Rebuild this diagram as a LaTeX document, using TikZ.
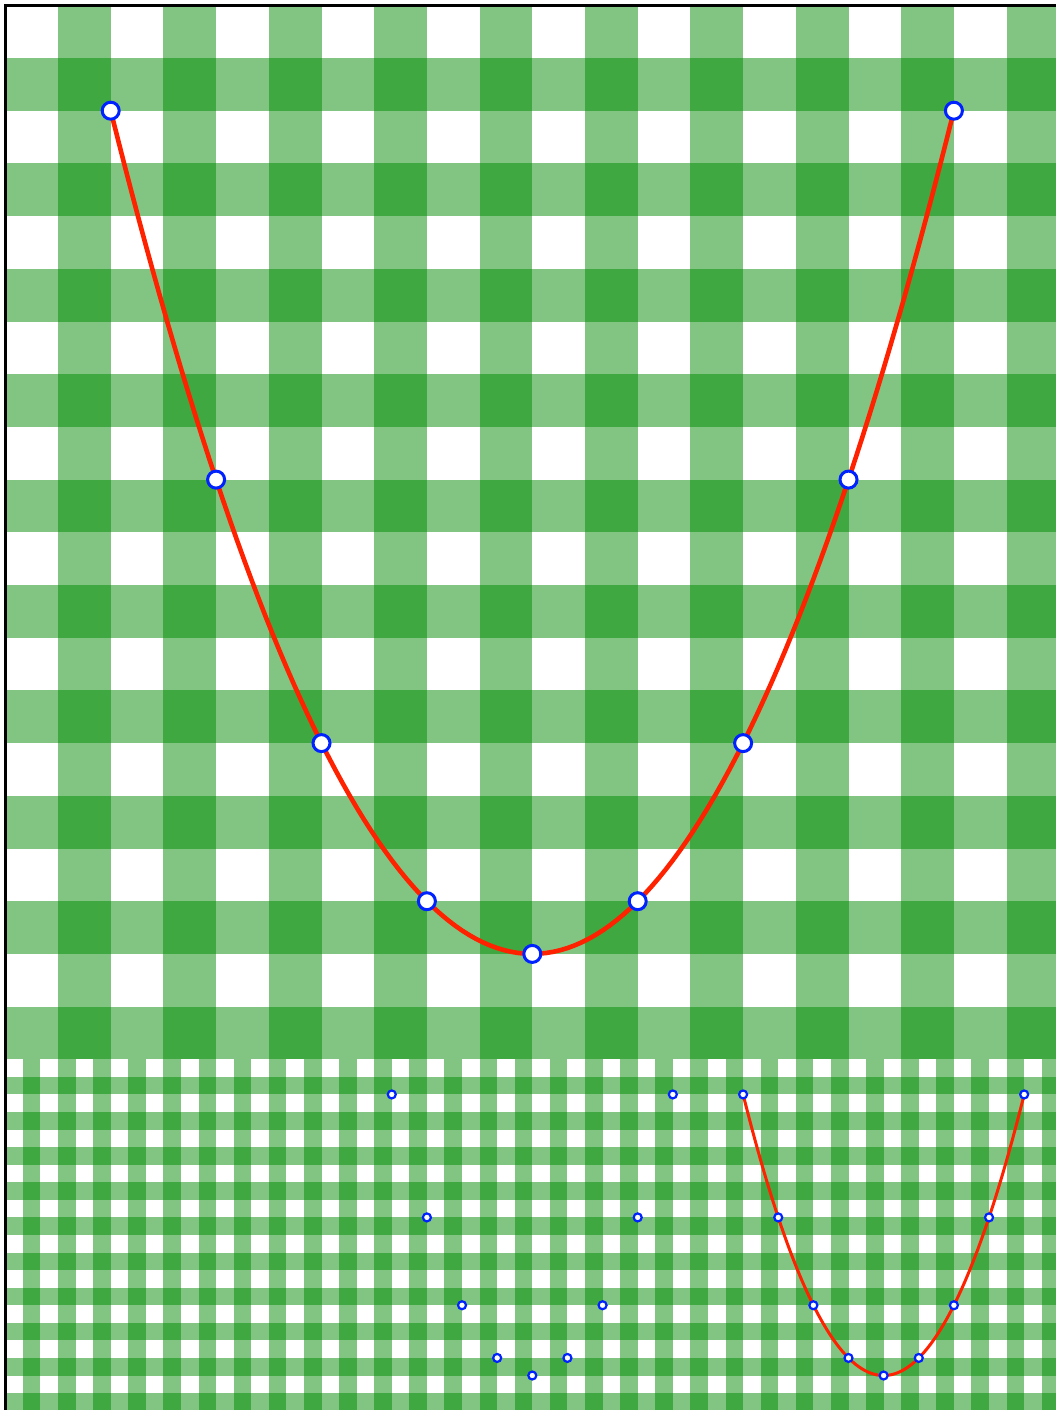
\documentclass[tikz,border=0pt]{standalone}
\definecolor{lightg}{RGB}{130,197,130}
\definecolor{darkg}{RGB}{64,168,64}
\definecolor{curvered}{RGB}{255,34,0}
\definecolor{ptblue}{RGB}{0,34,255}
\tikzset{
  bigpt/.style={circle,draw=ptblue,fill=white,line width=3pt,minimum size=17pt,inner sep=0pt},
  smallpt/.style={circle,draw=ptblue,fill=white,line width=2.2pt,minimum size=8pt,inner sep=0pt},
  bigcurve/.style={draw=curvered,line width=4.6pt},
  smallcurve/.style={draw=curvered,line width=3pt},
}
\begin{document}
\begin{tikzpicture}[x=1pt,y=-1pt]
\useasboundingbox (0,0) rectangle (1056,1410);
\clip (0,0) rectangle (1056,1410);
\fill[white] (0,0) rectangle (1056,1410);
% top gingham (cell 52.7)
\foreach \i in {1,3,...,19} {
  \fill[lightg] ({5.3+\i*52.7},5.3) rectangle +(52.7,1054);
  \fill[lightg] (5.3,{5.3+\i*52.7}) rectangle +(1054,52.7);
}
\foreach \i in {1,3,...,19} \foreach \j in {1,3,...,19}
  \fill[darkg] ({5.3+\i*52.7},{5.3+\j*52.7}) rectangle +(52.7,52.7);
% bottom gingham (cell 52.7/3)
\foreach \i in {1,3,...,59} \fill[lightg] ({5.3+\i*17.5667},1059.3) rectangle +(17.5667,351.4);
\foreach \j in {1,3,...,19} \fill[lightg] (5.3,{1059.3+\j*17.5667}) rectangle +(1054,17.5667);
\foreach \i in {1,3,...,59} \foreach \j in {1,3,...,19}
  \fill[darkg] ({5.3+\i*17.5667},{1059.3+\j*17.5667}) rectangle +(17.5667,17.5667);
% frame
\draw[line width=2.6pt] (5.3,1412) -- (5.3,5.3) -- (1058,5.3);
% top parabola
\path[bigcurve] plot[domain=-4:4,samples=121] ({5.3+(10+2*\x)*52.7},{5.3+(18-(\x)*(\x))*52.7});
\foreach \k [count=\n] in {-4,...,4}
  \node[bigpt] (t\n) at ({5.3+(10+2*(\k))*52.7},{5.3+(18-(\k)*(\k))*52.7}) {};
% bottom left points
\foreach \k [count=\n] in {-4,...,4}
  \node[smallpt] (l\n) at ({5.3+(30+2*(\k))*17.5667},{1059.3+(18-(\k)*(\k))*17.5667}) {};
% bottom right parabola
\path[smallcurve] plot[domain=-4:4,samples=121] ({5.3+(50+2*\x)*17.5667},{1059.3+(18-(\x)*(\x))*17.5667});
\foreach \k [count=\n] in {-4,...,4}
  \node[smallpt] (r\n) at ({5.3+(50+2*(\k))*17.5667},{1059.3+(18-(\k)*(\k))*17.5667}) {};
\end{tikzpicture}
\end{document}
